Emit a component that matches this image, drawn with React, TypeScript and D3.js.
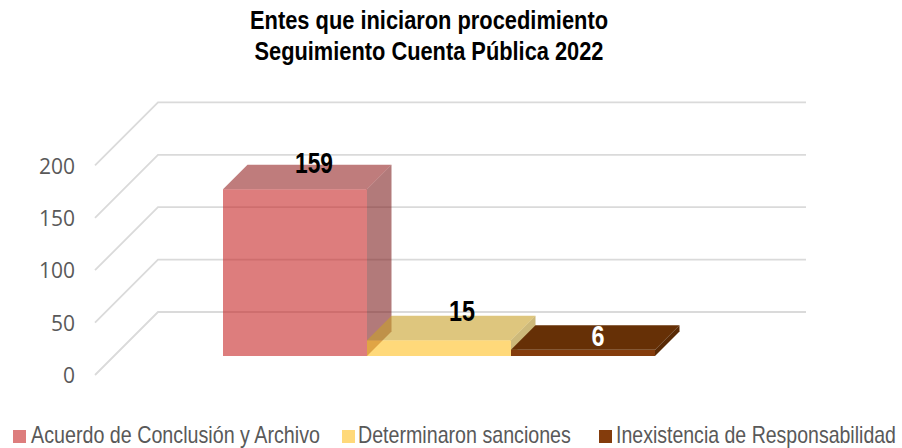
import { useRef, useEffect } from 'react';
import * as d3 from 'd3';

const titleLines = ['Entes que iniciaron procedimiento', 'Seguimiento Cuenta Pública 2022'];
const categories = ['Acuerdo de Conclusión y Archivo', 'Determinaron sanciones', 'Inexistencia de Responsabilidad'];
const values = [159, 15, 6];
const yTicks = [0, 50, 100, 150, 200];

// front / top / side colours per series
const frontColors = ['#C62626', '#FFC021', '#843C0C'];
const topColors = ['#942424', '#C8A028', '#663006'];
const sideColors = ['#7F2222', '#AB8A21', '#592A05'];
const seriesOpacity = [0.6, 0.6, 1];
const swatchColors = ['#DD7D7D', '#FFD97A', '#843C0C'];
const labelColors = ['#000', '#000', '#fff'];

const sans = '"Liberation Sans", Arial, sans-serif';

export default function App() {
  const svgRef = useRef<SVGSVGElement>(null);

  useEffect(() => {
    if (!svgRef.current) return;
    const svg = d3.select(svgRef.current);
    svg.selectAll('*').remove();

    const yFront = d3.scaleLinear().domain([0, 200]).range([375, 165.4]);
    const floorDepth = 63;
    const barDepth = 24.5;
    const barInset = 19;
    const right = 806;
    const left = 95;

    // walls: gridlines run back from the front edge, then across the back wall
    const grid = d3.line();
    svg.append('g').selectAll('path').data(yTicks).join('path')
      .attr('d', (d) => grid([
        [left, yFront(d)],
        [left + floorDepth, yFront(d) - floorDepth],
        [right, yFront(d) - floorDepth],
      ]))
      .attr('fill', 'none').attr('stroke', '#DADADA').attr('stroke-width', 1.8);

    svg.append('g').attr('transform', `translate(${left - 20},1)`)
      .call(d3.axisLeft(yFront).tickValues(yTicks).tickSize(0).tickPadding(0).tickFormat((d) => `${d}`))
      .call((g) => g.select('.domain').remove())
      .call((g) => g.selectAll('text')
        .attr('font-family', '"Open Sans", sans-serif')
        .attr('font-size', 21).attr('fill', '#595959'));

    const x = d3.scaleBand().domain(categories).range([223, 655]);
    const poly = d3.line();
    const bars = svg.append('g');

    categories.forEach((c, i) => {
      const x0 = x(c) ?? 0;
      const x1 = x0 + x.bandwidth();
      const base = yFront(0) - barInset;
      const top = base - (yFront(0) - yFront(values[i]));
      const g = bars.append('g').attr('fill-opacity', seriesOpacity[i]);
      g.append('path').attr('fill', frontColors[i])
        .attr('d', poly([[x0, base], [x0, top], [x1, top], [x1, base]]) + 'Z');
      g.append('path').attr('fill', topColors[i])
        .attr('d', poly([[x0, top], [x0 + barDepth, top - barDepth], [x1 + barDepth, top - barDepth], [x1, top]]) + 'Z');
      g.append('path').attr('fill', sideColors[i])
        .attr('d', poly([[x1, top], [x1 + barDepth, top - barDepth], [x1 + barDepth, base - barDepth], [x1, base]]) + 'Z');
    });

    // data labels sit on the top face
    const labelShiftX = [19, 23, 15];
    const labelShiftY = [-26, -29, -14];
    const labelWidth = [38, 26, 13];
    svg.append('g').selectAll('text').data(values).join('text')
      .attr('x', (_, i) => (x(categories[i]) ?? 0) + x.bandwidth() / 2 + labelShiftX[i])
      .attr('y', (d, i) => yFront(d) - barInset + labelShiftY[i])
      .attr('text-anchor', 'middle').attr('dominant-baseline', 'central')
      .attr('font-family', sans).attr('font-weight', 700).attr('font-size', 29)
      .attr('textLength', (_, i) => labelWidth[i]).attr('lengthAdjust', 'spacingAndGlyphs')
      .attr('fill', (_, i) => labelColors[i])
      .text((d) => `${d}`);

    const titleWidth = [358, 349];
    svg.append('g').selectAll('text').data(titleLines).join('text')
      .attr('x', 429).attr('y', (_, i) => 29 + i * 31)
      .attr('text-anchor', 'middle')
      .attr('font-family', sans).attr('font-weight', 700).attr('font-size', 25)
      .attr('textLength', (_, i) => titleWidth[i]).attr('lengthAdjust', 'spacingAndGlyphs')
      .attr('fill', '#000')
      .text((d) => d);

    const legendX = [13, 342, 599];
    const legendTextX = [31, 358, 616];
    const legendWidth = [289, 213, 280];
    const legend = svg.append('g').selectAll('g').data(categories).join('g');
    legend.append('rect')
      .attr('x', (_, i) => legendX[i]).attr('y', 430)
      .attr('width', 13).attr('height', 13).attr('fill', (_, i) => swatchColors[i]);
    // narrow face isn't installed, so squeeze the regular one to the measured width
    legend.append('text')
      .attr('font-family', sans).attr('font-size', 23).attr('fill', '#595959')
      .text((d) => d)
      .attr('transform', function (_, i) {
        const k = legendWidth[i] / (this as SVGTextElement).getComputedTextLength();
        return `translate(${legendTextX[i]},443) scale(${k},1)`;
      });
  }, []);

  return (
    <svg
      ref={svgRef}
      width={902}
      height={448}
      style={{ position: 'absolute', top: 0, left: 0, background: '#fff' }}
    />
  );
}
